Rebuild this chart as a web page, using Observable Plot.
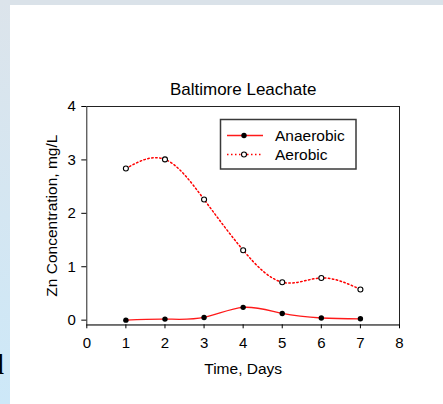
<!DOCTYPE html>
<html><head><meta charset="utf-8">
<script src="https://cdn.jsdelivr.net/npm/d3@7"></script>
<script src="https://cdn.jsdelivr.net/npm/@observablehq/plot@0.6"></script>
<style>
html,body{margin:0;padding:0;background:#fff;}
#wrap{position:relative;width:443px;height:404px;overflow:hidden;background:#fff;}
#topband{position:absolute;left:0;top:0;width:443px;height:5px;background:#dae2e9;}
#leftband{position:absolute;left:0;top:0;width:10px;height:404px;background:linear-gradient(#dce4eb,#cde8f8);}
#chart{position:absolute;left:0;top:0;}
</style></head><body>
<div id="wrap"><div id="topband"></div><div id="leftband"></div><div id="chart"></div></div>
<script>
const days = [1, 2, 3, 4, 5, 6, 7];
const anaerobic = [0.0, 0.02, 0.05, 0.24, 0.125, 0.04, 0.025];
const aerobic = [2.84, 3.01, 2.26, 1.31, 0.71, 0.79, 0.575];
const seriesNames = ["Anaerobic", "Aerobic"];
const xTicks = [0, 1, 2, 3, 4, 5, 6, 7, 8];
const yTicks = [0, 1, 2, 3, 4];
const titleText = "Baltimore Leachate";
const xLabel = "Time, Days";
const yLabel = "Zn Concentration, mg/L";

const an = days.map((d, i) => ({day: d, value: anaerobic[i], series: seriesNames[0]}));
const ae = days.map((d, i) => ({day: d, value: aerobic[i], series: seriesNames[1]}));
const yMin = -0.087;
const font = "Arial, 'Liberation Sans', sans-serif";

const plot = Plot.plot({
  width: 443, height: 404,
  marginLeft: 86.3, marginRight: 44, marginTop: 106, marginBottom: 79.7,
  style: {background: "transparent", fontFamily: font, color: "#000", overflow: "visible"},
  x: {domain: [0, 8]},
  y: {domain: [yMin, 4]},
  marks: [
    Plot.frame({stroke: "#222", strokeWidth: 1}),
    Plot.ruleY([yMin], {stroke: "#6a6a6a", strokeWidth: 1.8}),
    Plot.axisX({ticks: xTicks, tickSize: 4, tickPadding: 9, fontSize: 15, label: null, tickFormat: d => String(d)}),
    Plot.axisY({ticks: yTicks, tickSize: 5, tickPadding: 6, fontSize: 15, label: null, tickFormat: d => String(d)}),
    Plot.line(an, {x: "day", y: "value", stroke: "#ff1a1a", strokeWidth: 1.3, curve: "natural"}),
    Plot.line(ae, {x: "day", y: "value", stroke: "#ff0000", strokeWidth: 1.5, strokeDasharray: "1.5,2.5", curve: "natural"}),
    Plot.dot(an, {x: "day", y: "value", r: 2.7, fill: "black", stroke: "none"}),
    Plot.dot(ae, {x: "day", y: "value", r: 2.5, fill: "white", stroke: "black", strokeWidth: 1.1}),
    Plot.text([titleText], {frameAnchor: "top", dy: -17, fontSize: 17, lineAnchor: "middle", fill: "black"}),
    Plot.text([xLabel], {frameAnchor: "bottom", dy: 44.7, fontSize: 15.5, lineAnchor: "middle", fill: "black"}),
    Plot.text([yLabel], {frameAnchor: "left", dx: -34.3, rotate: -90, textAnchor: "middle", fontSize: 15.5, lineAnchor: "middle", fill: "black"})
  ]
});
document.getElementById("chart").appendChild(plot);

const svg = d3.select(plot);
svg.selectAll('g[aria-label$="tick label"]').attr("font-size", 15).style("font-size", "15px");
svg.selectAll('g[aria-label$="tick label"] text').style("font-size", "15px");

// legend and stray glyph
const lg = svg.append("g").attr("font-family", font).attr("text-anchor", "start");
lg.append("rect").attr("x", 220.5).attr("y", 119.5).attr("width", 135.5).attr("height", 49.5)
  .attr("fill", "white").attr("stroke", "#3a3a3a").attr("stroke-width", 1.5);
const rowsY = [135.5, 154.5];
seriesNames.forEach((name, i) => {
  const y = rowsY[i];
  lg.append("line").attr("x1", 227).attr("x2", 263).attr("y1", y).attr("y2", y)
    .attr("stroke", i === 0 ? "#ff1a1a" : "#ff0000").attr("stroke-width", i === 0 ? 1.3 : 1.5)
    .attr("stroke-dasharray", i === 0 ? null : "1.5,2.5");
  lg.append("circle").attr("cx", 244).attr("cy", y).attr("r", i === 0 ? 2.7 : 2.5)
    .attr("fill", i === 0 ? "black" : "white").attr("stroke", i === 0 ? "none" : "black").attr("stroke-width", 1.1);
  lg.append("text").attr("x", 275).attr("y", y + 5.5).attr("text-anchor", "start")
    .attr("font-size", 15.5).attr("fill", "black").text(name);
});
svg.append("text").attr("x", 4).attr("y", 374).attr("text-anchor", "end")
  .attr("font-family", "'Liberation Serif', 'Times New Roman', serif").attr("font-size", 30).attr("fill", "black").text("d");
</script>
</body></html>
